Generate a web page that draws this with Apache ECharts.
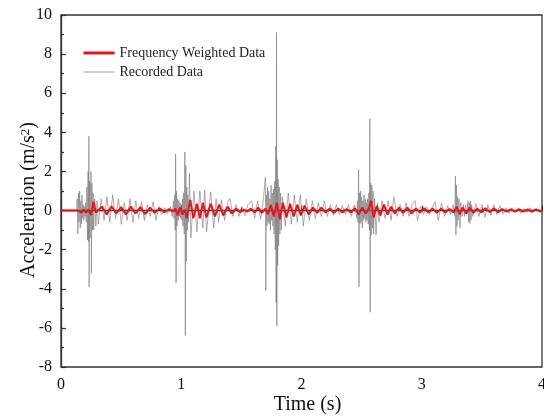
<!DOCTYPE html>
<html>
<head>
<meta charset="utf-8">
<script src="https://cdn.jsdelivr.net/npm/echarts@6/dist/echarts.min.js"></script>
<style>html,body{margin:0;padding:0;background:#fff;}#c{width:544px;height:417px;}</style>
</head>
<body>
<div id="c"></div>
<script>
const xTicks = [0, 1, 2, 3, 4];
const yTicks = [-8, -6, -4, -2, 0, 2, 4, 6, 8, 10];
const seriesNames = ['Frequency Weighted Data', 'Recorded Data'];

// Recorded acceleration [time (s), acceleration (m/s^2)]
const recordedData = [
[0,0],[0.13,0],
[0.135,0.6],[0.14,-1.2],[0.145,0.9],[0.15,-0.6],[0.155,1.0],[0.16,-0.9],[0.165,0.5],[0.17,-0.7],[0.175,0.8],[0.18,-0.4],[0.185,0.3],[0.19,-0.5],[0.195,0.2],[0.2,-0.3],[0.205,0.4],[0.21,-0.6],[0.215,1.2],[0.22,-1.5],[0.225,2.0],[0.228,-1.6],[0.232,3.8],[0.234,-3.9],[0.238,1.5],[0.242,-1.4],[0.246,1.2],[0.25,2.0],[0.253,-3.2],[0.257,1.4],[0.262,-1.0],[0.267,0.9],[0.272,-1.0],[0.28,0.6],[0.29,-0.8],[0.3,0.5],
[0.31,-0.7],[0.334,0.6],[0.358,-0.5],[0.382,0.7],[0.406,-0.6],[0.43,0.8],[0.454,-0.4],[0.478,0.6],[0.502,-0.7],[0.526,0.4],[0.55,-0.5],[0.574,0.6],[0.598,-0.6],[0.622,0.5],[0.646,-0.4],[0.67,0.45],[0.694,-0.5],[0.718,0.3],[0.742,-0.3],[0.766,0.45],[0.79,-0.5],[0.814,0.2],[0.838,-0.2],[0.862,0.15],[0.886,-0.15],[0.91,0.2],[0.925,-0.3],[0.935,0.5],
[0.94,-0.4],[0.945,0.8],[0.95,-1.0],[0.953,2.9],[0.957,-3.7],[0.96,1.0],[0.965,-0.8],[0.97,0.6],[0.975,-0.5],[0.98,0.5],[0.985,-0.3],[0.99,0.4],[0.995,-0.4],[1.0,0.3],[1.005,-0.5],[1.01,0.6],[1.015,-0.8],[1.02,0.9],[1.025,-1.2],[1.03,3.0],[1.034,-6.4],[1.038,2.3],[1.042,-2.6],[1.046,1.2],[1.05,-1.0],[1.055,0.8],[1.06,-0.6],[1.068,1.9],[1.08,-1.4],
[1.105,1.0],[1.13,-1.1],[1.155,1.0],[1.18,-0.9],[1.195,1.05],[1.21,-1.1],[1.245,0.96],[1.27,-0.9],[1.29,0.6],[1.31,-0.6],[1.335,0.55],[1.36,-0.5],[1.385,0.4],[1.405,0.62],[1.43,-0.3],[1.455,0.3],[1.48,-0.3],[1.505,0.2],[1.53,-0.25],[1.555,0.3],[1.586,0.5],[1.61,-0.4],[1.635,0.5],[1.66,-0.45],[1.68,0.4],
[1.695,0.3],[1.70,1.7],[1.703,-4.1],[1.707,0.8],[1.712,-0.8],[1.717,1.2],[1.722,-0.6],[1.727,1.0],[1.732,-0.7],[1.737,0.6],[1.742,-1.0],[1.747,1.3],[1.752,-0.5],[1.757,0.9],[1.762,-0.8],[1.767,1.1],[1.772,-1.2],[1.777,1.5],[1.782,-2.0],[1.786,3.3],[1.789,-4.7],[1.792,9.1],[1.795,-5.9],[1.798,2.6],[1.802,-2.8],[1.806,1.6],[1.81,-1.8],[1.815,1.2],[1.82,-1.2],[1.826,0.9],[1.832,-1.0],[1.84,0.7],
[1.865,-0.8],[1.89,0.9],[1.915,-0.7],[1.94,0.8],[1.965,-0.6],[1.99,0.8],[2.015,-0.8],[2.04,0.6],[2.065,-0.5],[2.09,0.5],[2.115,-0.4],[2.14,0.4],[2.165,-0.3],[2.19,0.5],[2.215,-0.3],[2.24,0.3],[2.265,-0.25],[2.29,0.3],[2.315,-0.2],[2.34,0.25],[2.365,-0.2],[2.39,0.3],[2.415,-0.3],[2.44,0.3],
[2.46,-0.4],[2.465,0.5],[2.47,-0.6],[2.475,2.1],[2.478,-3.9],[2.482,0.9],[2.486,-0.7],[2.49,1.0],[2.495,-0.6],[2.5,0.7],[2.505,-0.9],[2.51,0.5],[2.515,-0.5],[2.52,0.8],[2.525,-0.4],[2.53,0.6],[2.535,-0.6],[2.54,0.4],[2.545,-0.5],[2.55,0.6],[2.555,-0.7],[2.56,0.9],[2.565,-1.0],[2.568,4.7],[2.571,-5.2],[2.575,1.4],[2.58,-1.25],[2.585,1.3],[2.59,-0.9],[2.595,1.0],[2.6,-1.2],[2.608,0.6],[2.62,-1.25],[2.632,0.4],
[2.645,-0.6],[2.67,0.5],[2.695,-0.4],[2.72,0.5],[2.745,-0.5],[2.768,0.7],[2.795,-0.3],[2.82,0.3],[2.845,-0.3],[2.87,0.4],[2.895,-0.3],[2.92,0.3],[2.945,0.5],[2.965,-0.5],[2.99,0.2],[3.015,-0.2],[3.04,0.2],[3.065,-0.2],[3.09,0.2],[3.11,0.45],[3.137,-0.5],[3.165,0.37],[3.19,-0.3],[3.215,0.25],[3.24,-0.2],[3.26,0.3],
[3.275,-0.3],[3.28,1.76],[3.284,-1.25],[3.288,1.3],[3.293,-0.8],[3.298,0.7],[3.303,-0.5],[3.31,0.6],[3.318,-0.9],[3.325,0.4],[3.335,-0.3],[3.345,0.3],[3.355,-0.3],[3.365,0.3],[3.375,-0.2],[3.385,0.5],[3.39,-0.6],[3.395,0.4],[3.4,-0.65],[3.405,0.5],[3.41,-0.5],[3.415,0.3],[3.425,-0.3],
[3.45,0.35],[3.475,-0.3],[3.5,0.3],[3.525,-0.35],[3.55,0.3],[3.575,-0.25],[3.6,0.3],[3.625,-0.2],[3.65,0.25],[3.675,-0.2],[3.7,0.15],[3.725,-0.15],[3.75,0.15],[3.775,-0.1],[3.8,0.15],[3.825,-0.15],[3.85,0.1],[3.875,-0.1],[3.9,0.15],[3.925,-0.1],[3.95,0.1],[3.975,-0.1],[4.0,0.05]
];

// Frequency weighted acceleration [time (s), acceleration (m/s^2)]
const weightedData = [
[0,0],[0.14,0],[0.15,0.08],[0.17,-0.1],[0.19,0.05],[0.21,-0.1],[0.23,0.05],[0.25,-0.23],[0.27,0.45],[0.29,-0.1],
[0.30,-0.15],[0.34,0.2],[0.38,-0.2],[0.42,0.22],[0.46,-0.15],[0.50,0.18],[0.54,-0.2],[0.58,0.2],[0.62,-0.15],[0.66,0.18],[0.70,-0.18],[0.74,0.15],[0.78,-0.12],[0.82,0.12],[0.86,-0.08],[0.90,0.08],[0.93,-0.05],[0.95,0.1],[0.97,-0.25],[0.99,0.15],[1.01,-0.2],[1.03,0.05],[1.045,-0.4],[1.075,0.55],[1.1,-0.4],
[1.13,0.35],[1.155,-0.4],[1.18,0.4],[1.21,-0.35],[1.245,0.35],[1.28,-0.3],[1.315,0.3],[1.35,-0.25],[1.385,0.2],[1.42,-0.15],[1.455,0.1],[1.49,-0.08],[1.52,0.05],[1.55,-0.05],[1.58,0.1],[1.61,-0.1],[1.64,0.15],[1.67,-0.12],[1.70,0.1],[1.72,-0.2],[1.745,0.3],[1.77,-0.3],[1.795,0.4],[1.82,-0.45],[1.845,0.4],[1.875,-0.35],[1.905,0.35],[1.935,-0.3],[1.965,0.3],[1.995,-0.25],[2.025,0.25],[2.06,-0.2],[2.095,0.15],[2.13,-0.12],[2.165,0.15],[2.2,-0.1],[2.235,0.1],[2.27,-0.12],[2.305,0.1],[2.34,-0.1],[2.375,0.08],[2.41,-0.1],[2.445,0.12],[2.475,-0.2],[2.505,0.15],[2.535,-0.15],[2.56,0.1],[2.578,0.5],[2.6,-0.35],[2.625,0.25],[2.655,-0.25],[2.685,0.3],[2.715,-0.2],[2.745,0.2],[2.775,-0.15],[2.81,0.15],[2.845,-0.12],[2.88,0.15],[2.915,-0.15],[2.95,0.1],[2.985,-0.1],[3.02,0.12],[3.055,-0.1],[3.09,0.1],[3.125,-0.12],[3.16,0.1],[3.195,-0.1],[3.23,0.08],[3.265,-0.1],[3.29,0.2],[3.315,-0.2],[3.34,0.15],[3.37,-0.15],[3.40,0.15],[3.43,-0.12],[3.46,0.1],[3.495,-0.1],[3.53,0.12],[3.565,-0.08],[3.6,0.1],[3.635,-0.08],[3.67,0.08],[3.705,-0.06],[3.74,0.06],[3.775,-0.06],[3.81,0.06],[3.845,-0.05],[3.88,0.06],[3.915,-0.05],[3.95,0.06],[3.985,-0.04],[4.0,0]
];

const FONT = "'Liberation Serif', 'Times New Roman', serif";
const chart = echarts.init(document.getElementById('c'), null, {renderer: 'canvas'});
chart.setOption({
  animation: false,
  backgroundColor: '#fff',
  grid: {left: 61, right: 2, top: 15, bottom: 50, containLabel: false, outerBoundsMode: 'none',
         show: true, borderColor: '#333', borderWidth: 1.3, backgroundColor: 'transparent'},
  legend: {
    data: [
      {name: seriesNames[0], lineStyle: {width: 3, color: '#e8141c'}},
      {name: seriesNames[1], lineStyle: {width: 0.8, color: '#888'}}
    ],
    orient: 'vertical',
    left: 82, top: 46, padding: 0,
    itemWidth: 31, itemHeight: 14, itemGap: 5,
    itemStyle: {opacity: 0},
    textStyle: {fontFamily: FONT, fontSize: 14, color: '#222'}
  },
  xAxis: {
    type: 'value', min: xTicks[0], max: xTicks[xTicks.length - 1], interval: 1,
    name: 'Time (s)', nameLocation: 'middle', nameGap: 28, nameMoveOverlap: false,
    nameTextStyle: {fontFamily: FONT, fontSize: 20, color: '#111', padding: [0, 0, 0, 12]},
    axisLine: {show: true, lineStyle: {color: '#333', width: 1.3}},
    axisTick: {show: true, inside: true, length: 5, lineStyle: {color: '#333', width: 1.2}},
    minorTick: {show: true, splitNumber: 2, length: 3, lineStyle: {color: '#333', width: 1.2}},
    axisLabel: {fontFamily: FONT, fontSize: 16, color: '#111', margin: 10},
    splitLine: {show: false}
  },
  yAxis: {
    type: 'value', min: yTicks[0], max: yTicks[yTicks.length - 1], interval: 2,
    name: '{a|Acceleration (m/s}{s|2}{a|)}', nameLocation: 'middle', nameGap: 22, nameMoveOverlap: false,
    nameTextStyle: {fontFamily: FONT, fontSize: 20, color: '#111', padding: [0, 18, 0, 0],
      rich: {a: {fontFamily: FONT, fontSize: 20, color: '#111'}, s: {fontFamily: FONT, fontSize: 13, color: '#111', verticalAlign: 'top', lineHeight: 14, padding: [0, 0, 8, 0]}}},
    axisLine: {show: true, lineStyle: {color: '#333', width: 1.3}},
    axisTick: {show: true, inside: true, length: 5, lineStyle: {color: '#333', width: 1.2}},
    minorTick: {show: true, splitNumber: 2, length: 3, lineStyle: {color: '#333', width: 1.2}},
    axisLabel: {fontFamily: FONT, fontSize: 16, color: '#111', margin: 9},
    splitLine: {show: false}
  },
  series: [
    {name: seriesNames[1], type: 'line', data: recordedData, symbol: 'none', showSymbol: false,
     lineStyle: {color: '#777', width: 0.6}, itemStyle: {color: '#777'}, z: 2},
    {name: seriesNames[0], type: 'line', data: weightedData, symbol: 'none', showSymbol: false,
     lineStyle: {color: '#e8141c', width: 2}, itemStyle: {color: '#e8141c'}, z: 3}
  ]
});
</script>
</body>
</html>
